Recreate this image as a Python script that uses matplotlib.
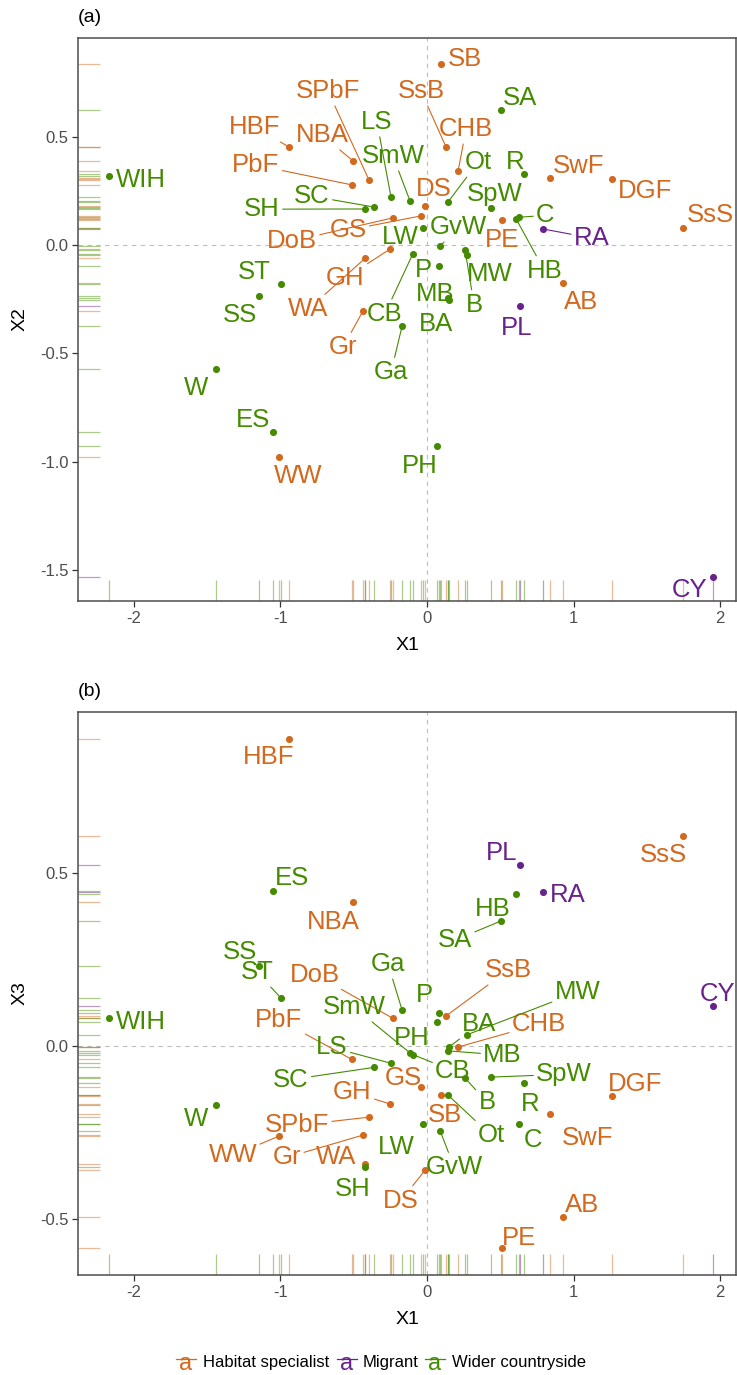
import numpy as np
import matplotlib.pyplot as plt
from matplotlib.lines import Line2D

plt.rcParams['font.family'] = ['Liberation Sans', 'DejaVu Sans']

# species codes, guild and ordination scores
species = ['SB', 'HBF', 'NBA', 'SPbF', 'PbF', 'SsB', 'CHB', 'DS', 'DoB', 'GS', 'GH', 'WA', 'Gr',
           'SwF', 'DGF', 'SsS', 'PE', 'AB', 'WW',
           'RA', 'PL', 'CY',
           'WIH', 'SA', 'LS', 'SmW', 'SC', 'SH', 'Ot', 'R', 'SpW', 'GvW', 'C', 'HB', 'LW', 'P',
           'MW', 'MB', 'B', 'BA', 'CB', 'Ga', 'ST', 'SS', 'W', 'ES', 'PH']
group = ['Habitat specialist'] * 19 + ['Migrant'] * 3 + ['Wider countryside'] * 25

x1 = [0.096, -0.942, -0.505, -0.396, -0.512, 0.13, 0.212, -0.014, -0.232, -0.041, -0.25, -0.42, -0.437,
      0.84, 1.263, 1.75, 0.512, 0.93, -1.01,
      0.79, 0.635, 1.952,
      -2.17, 0.505, -0.246, -0.116, -0.362, -0.423, 0.143, 0.662, 0.437, 0.09, 0.63, 0.61, -0.027, 0.08,
      0.27, 0.14, 0.26, 0.15, -0.096, -0.17, -0.997, -1.147, -1.44, -1.05, 0.068]
x2 = [0.835, 0.452, 0.388, 0.30, 0.277, 0.452, 0.341, 0.18, 0.125, 0.134, -0.018, -0.06, -0.305,
      0.31, 0.305, 0.078, 0.115, -0.175, -0.978,
      0.074, -0.282, -1.532,
      0.318, 0.623, 0.222, 0.203, 0.175, 0.166, 0.198, 0.328, 0.171, -0.005, 0.128, 0.118, 0.078, -0.097,
      -0.045, -0.245, -0.025, -0.255, -0.04, -0.374, -0.18, -0.235, -0.572, -0.863, -0.928]
x3 = [-0.142, 0.89, 0.416, -0.206, -0.039, 0.087, -0.003, -0.36, 0.08, -0.118, -0.168, -0.342, -0.258,
      -0.198, -0.145, 0.609, -0.585, -0.495, -0.261,
      0.445, 0.523, 0.116,
      0.081, 0.362, -0.05, -0.02, -0.062, -0.35, -0.142, -0.107, -0.09, -0.246, -0.226, 0.44, -0.226, 0.095,
      0.032, -0.014, -0.093, -0.003, -0.025, 0.104, 0.139, 0.231, -0.171, 0.448, 0.07]

groups = ['Habitat specialist', 'Migrant', 'Wider countryside']
colors = {'Habitat specialist': '#D2691E', 'Migrant': '#68228B', 'Wider countryside': '#458B00'}

# label offsets in pixels (dx, dy up, draw segment)
offsets_a = {
    'SB': (24, 7, False), 'SA': (19, 14, False), 'SsB': (-25, 58, True), 'SPbF': (-41, 91, True),
    'HBF': (-34, 22, True), 'NBA': (-31, 28, True), 'LS': (-14, 77, True), 'CHB': (8, 44, True),
    'SmW': (-17, 47, True), 'Ot': (30, 42, True), 'R': (-9, 14, False), 'PbF': (-96, 22, True),
    'DS': (9, 19, False), 'SpW': (4, 16, False), 'SC': (-62, 13, True), 'SH': (-103, 2, True),
    'SwF': (29, 14, False), 'DGF': (33, -10, False), 'SsS': (27, 15, False), 'C': (26, 4, True),
    'HB': (28, -49, True), 'RA': (49, -7, True), 'PE': (0, -18, False), 'AB': (18, -17, False),
    'PL': (-3, -20, False), 'GS': (-73, -12, True), 'DoB': (-101, -21, True), 'GvW': (18, 21, True),
    'LW': (-23, -7, False), 'P': (-15, -2, False), 'MW': (23, -17, False), 'B': (9, -52, True),
    'MB': (-12, 6, False), 'BA': (-13, -22, False), 'CB': (-28, -58, True), 'Gr': (-20, -34, True),
    'Ga': (-11, -44, True), 'GH': (-45, -27, True), 'WA': (-57, -49, True), 'ST': (-27, 14, False),
    'SS': (-19, -17, False), 'W': (-20, -17, False), 'ES': (-20, 14, False), 'WW': (19, -17, False),
    'PH': (-17, -18, False), 'CY': (-23, -11, False), 'WIH': (32, -2, False),
}
offsets_b = {
    'HBF': (-20, -16, False), 'ES': (19, 15, False), 'NBA': (-20, -17, False), 'PL': (-18, 15, False),
    'RA': (25, -1, False), 'HB': (-24, -13, False), 'SA': (-46, -17, True), 'SsS': (-20, -17, False),
    'SS': (-19, 16, False), 'ST': (-24, 28, True), 'DoB': (-78, 46, True), 'Ga': (-14, 48, True),
    'P': (-14, 20, False), 'SsB': (62, 48, True), 'MW': (111, 45, True), 'SmW': (-56, 48, True),
    'PbF': (-73, 42, True), 'BA': (30, 25, True), 'CHB': (81, 25, True), 'PH': (-25, -14, False),
    'LS': (-59, 18, True), 'MB': (55, -2, True), 'SC': (-83, -10, True), 'CB': (40, -14, True),
    'GS': (-18, 11, False), 'SpW': (73, 5, True), 'GH': (-38, 14, True), 'B': (22, -22, True),
    'R': (6, -19, False), 'SB': (4, -18, False), 'Ot': (43, -38, True), 'C': (14, -14, False),
    'SwF': (38, -21, False), 'DGF': (23, 14, False), 'SPbF': (-72, -6, True), 'WW': (-46, -17, True),
    'Gr': (-76, -20, True), 'WA': (-29, 9, False), 'LW': (-27, -21, False), 'SH': (-12, -20, False),
    'GvW': (14, -34, True), 'DS': (-24, -28, True), 'AB': (19, 14, False), 'PE': (17, 12, False),
    'W': (-20, -12, False), 'WIH': (32, -2, False), 'CY': (5, 14, False),
}

W, H = 737, 1375
LABEL_FS = 18.5
CAP_HALF = 0.716 * LABEL_FS * 100 / 72 / 2


def draw_panel(ax, yvals, offsets, ylim, yticks, ylab, tag):
    ax.set_xlim(-2.382, 2.109)
    ax.set_ylim(*ylim)
    ax.axvline(0, color='#BDBDBD', ls=(0, (4, 4)), lw=0.8, zorder=0)
    ax.axhline(0, color='#BDBDBD', ls=(0, (4, 4)), lw=0.8, zorder=0)

    # rugs
    for g in groups:
        xs = [x1[i] for i in range(len(species)) if group[i] == g]
        ys = [yvals[i] for i in range(len(species)) if group[i] == g]
        ax.vlines(xs, 0, 0.038, transform=ax.get_xaxis_transform(), color=colors[g], alpha=0.45, lw=0.9)
        ax.hlines(ys, 0, 0.033, transform=ax.get_yaxis_transform(), color=colors[g], alpha=0.45, lw=0.9)

    for i, name in enumerate(species):
        c = colors[group[i]]
        ax.scatter(x1[i], yvals[i], s=26, color=c, lw=0, zorder=3)
        dx, dy, seg = offsets[name]
        ap = None
        if seg:
            ap = dict(arrowstyle='-', color=c, lw=0.8, shrinkA=0, shrinkB=2)
        ax.annotate(name, xy=(x1[i], yvals[i]), xytext=(dx, dy - CAP_HALF), textcoords='offset pixels',
                    ha='center', va='baseline', fontsize=LABEL_FS, color=c,
                    arrowprops=ap, annotation_clip=False, zorder=4)

    ax.set_xticks([-2, -1, 0, 1, 2])
    ax.set_xticklabels(['-2', '-1', '0', '1', '2'])
    ax.set_yticks(yticks)
    ax.set_yticklabels([f'{v:.1f}' for v in yticks])
    ax.tick_params(length=4, width=0.9, color='#333333', labelcolor='#4D4D4D', labelsize=12, pad=3)
    for s in ax.spines.values():
        s.set_color('#4D4D4D')
        s.set_linewidth(1.1)
    ax.set_xlabel('X1', fontsize=14, va='center')
    ax.xaxis.set_label_coords(0.5, -44 / 563)
    ax.set_ylabel(ylab, fontsize=14, va='center')
    ax.yaxis.set_label_coords(-58 / 658, 0.5)
    ax.text(0.0, 1 + 20 / 563, tag, transform=ax.transAxes, fontsize=14, ha='left', va='center')


fig = plt.figure(figsize=(W / 100, H / 100), dpi=100)
ax_a = fig.add_axes([78 / W, 1 - 601 / H, 658 / W, 563 / H])
ax_b = fig.add_axes([78 / W, 1 - 1275 / H, 658 / W, 563 / H])

draw_panel(ax_a, x2, offsets_a, (-1.643, 0.955), [-1.5, -1.0, -0.5, 0.0, 0.5], 'X2', '(a)')
draw_panel(ax_b, x3, offsets_b, (-0.663, 0.967), [-0.5, 0.0, 0.5], 'X3', '(b)')

# legend at the bottom
legend_y = 1 - 1362 / H
key_x = [186, 347, 435]
text_x = [203, 363, 452]
for g, kx, tx in zip(groups, key_x, text_x):
    fig.text(kx / W, legend_y - 2 / H, 'a', color=colors[g], fontsize=17, ha='center', va='center')
    fig.add_artist(Line2D([(kx - 10) / W, (kx + 10) / W], [legend_y + 3 / H, legend_y + 3 / H],
                          color=colors[g], lw=0.9, transform=fig.transFigure))
    fig.text(tx / W, legend_y, g, color='black', fontsize=12, ha='left', va='center')

fig.savefig('out.png', dpi=100)
